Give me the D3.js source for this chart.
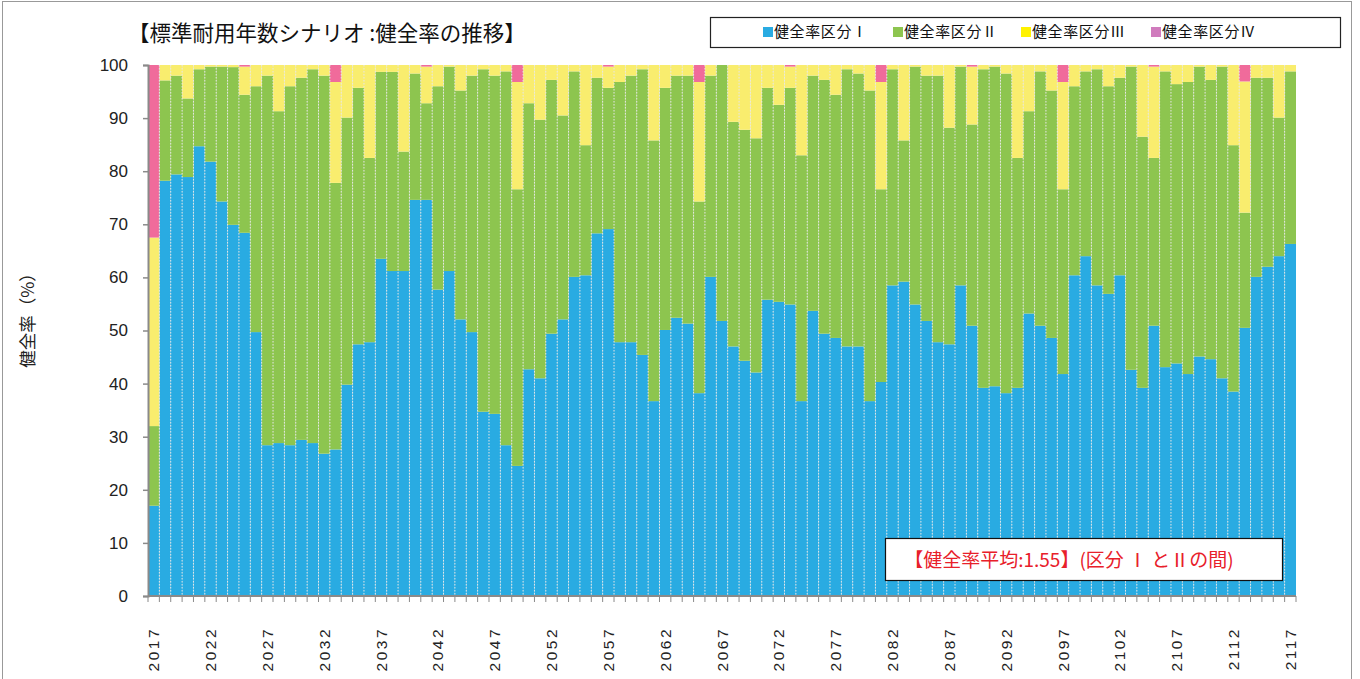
<!DOCTYPE html>
<html><head><meta charset="utf-8">
<script src="https://cdn.jsdelivr.net/npm/d3@7/dist/d3.min.js"></script>
<style>
html,body{margin:0;padding:0;background:#fff;}
svg{display:block;}
</style>
</head><body>
<svg id="chart" width="1360" height="679"></svg>
<script>
const years = d3.range(2017, 2118);
const seriesNames = ["健全率区分Ⅰ","健全率区分Ⅱ","健全率区分Ⅲ","健全率区分Ⅳ"];
const classI = [17.0,78.2,79.4,78.9,84.7,81.8,74.3,69.9,68.4,49.7,28.4,28.8,28.4,29.4,28.8,26.8,27.6,39.8,47.4,47.8,63.5,61.2,61.2,74.6,74.6,57.7,61.2,52.1,49.7,34.7,34.3,28.4,24.5,42.7,41.0,49.4,52.1,60.1,60.4,68.3,69.1,47.8,47.8,45.4,36.7,50.1,52.4,51.3,38.2,60.1,51.8,47.0,44.3,42.1,55.8,55.4,54.9,36.7,53.7,49.4,48.6,47.0,47.0,36.7,40.3,58.5,59.2,54.9,51.8,47.8,47.4,58.5,50.9,39.2,39.5,38.2,39.2,53.2,50.9,48.6,41.8,60.4,64.0,58.5,56.9,60.4,42.6,39.2,50.9,43.1,43.8,41.8,45.1,44.6,41.0,38.5,50.5,60.1,62.0,64.0,66.3];
const classII = [15.0,18.9,18.6,14.8,14.5,17.9,25.4,29.7,26.0,46.3,69.6,62.5,67.6,68.2,70.4,71.2,50.2,50.3,48.3,34.7,35.2,37.5,22.5,23.8,18.2,38.3,38.5,43.1,48.3,64.5,63.7,70.4,52.1,50.1,48.7,47.8,38.4,38.7,24.5,29.3,26.6,49.0,50.2,53.8,49.1,45.6,45.6,46.7,36.1,37.9,48.2,42.3,43.5,44.1,39.9,37.1,40.8,46.3,44.3,47.8,45.8,52.2,51.4,58.5,36.3,40.7,26.6,44.8,46.2,50.2,40.8,41.2,37.9,60.0,60.2,60.2,43.3,38.1,47.9,46.6,34.8,35.6,34.8,40.7,39.1,37.2,57.1,47.3,31.6,55.7,52.6,55.0,54.6,52.6,58.7,46.4,21.7,37.5,35.6,26.1,32.5];
const classIII = [35.5,2.9,2.0,6.3,0.8,0.3,0.3,0.4,5.3,4.0,2.0,8.7,4.0,2.4,0.8,2.0,19.0,9.9,4.3,17.5,1.3,1.3,16.3,1.6,6.9,4.0,0.3,4.8,2.0,0.8,2.0,1.2,20.2,7.2,10.3,2.8,9.5,1.2,15.1,2.4,4.0,3.2,2.0,0.8,14.2,4.3,2.0,2.0,22.5,2.0,0.0,10.7,12.2,13.8,4.3,7.5,4.0,17.0,2.0,2.8,5.6,0.8,1.6,4.8,20.2,0.8,14.2,0.3,2.0,2.0,11.8,0.3,10.9,0.8,0.3,1.6,17.5,8.7,1.2,4.8,20.2,4.0,1.2,0.8,4.0,2.4,0.3,13.5,17.2,1.2,3.6,3.2,0.3,2.8,0.3,15.1,24.7,2.4,2.4,9.9,1.2];
const classIV = [32.5,0,0,0,0,0,0,0,0.3,0,0,0,0,0,0,0,3.2,0,0,0,0,0,0,0,0.3,0,0,0,0,0,0,0,3.2,0,0,0,0,0,0,0,0.3,0,0,0,0,0,0,0,3.2,0,0,0,0,0,0,0,0.3,0,0,0,0,0,0,0,3.2,0,0,0,0,0,0,0,0.3,0,0,0,0,0,0,0,3.2,0,0,0,0,0,0,0,0.3,0,0,0,0,0,0,0,3.1,0,0,0,0];
const yTicks = [0,10,20,30,40,50,60,70,80,90,100];
const xLabels = d3.range(2017, 2118, 5);
const barColors = ["#29abe2","#8dc54f","#f9ed6e","#f06b9b"];
const legendColors = ["#29abe2","#8dc54f","#fff200","#d07bbd"];

const keys = ["I","II","III","IV"];
const table = years.map((yr,i)=>({year:yr, I:classI[i], II:classII[i], III:classIII[i], IV:classIV[i]}));

const svg = d3.select("#chart");
const W = 1360, H = 679;
const m = {left:148, right:1296, top:65, bottom:596};

// outer frame
svg.append("rect").attr("x",2.5).attr("y",1.5).attr("width",1349).attr("height",H+10)
  .attr("fill","#fff").attr("stroke","#999").attr("stroke-width",1);

const x = d3.scaleBand().domain(years).range([m.left, m.right]).padding(0);
const y = d3.scaleLinear().domain([0,100]).range([m.bottom, m.top]);

const stack = d3.stack().keys(keys);
const layers = stack(table);

const g = svg.append("g");
layers.forEach((layer, li)=>{
  g.append("g").selectAll("rect").data(layer).join("rect")
    .attr("x", d=>x(d.data.year))
    .attr("width", x.bandwidth())
    .attr("y", d=>y(d[1]))
    .attr("height", d=>Math.max(0, y(d[0]) - y(d[1])))
    .attr("fill", barColors[li]);
});
// dotted separators between bars
g.append("g").selectAll("line").data(years.slice(1)).join("line")
  .attr("x1", d=>x(d)).attr("x2", d=>x(d))
  .attr("y1", y(100)).attr("y2", y(0))
  .attr("stroke","#e6e6e6").attr("stroke-width",1).attr("stroke-dasharray","1.5,1.5");

// Y axis
const yAxis = d3.axisLeft(y).tickValues(yTicks).tickSize(5).tickPadding(15);
const ya = svg.append("g").attr("transform",`translate(${m.left},0)`).call(yAxis);
ya.select(".domain").attr("stroke","#8a8a8a").attr("stroke-width",2);
ya.selectAll(".tick line").attr("stroke","#8a8a8a").attr("stroke-width",1.5);
ya.selectAll(".tick text").attr("font-family","'Liberation Sans', Arial, sans-serif")
  .attr("font-size",17).attr("fill","#222");

// X axis line and ticks
svg.append("line").attr("x1",m.left).attr("x2",m.right).attr("y1",y(0)).attr("y2",y(0))
  .attr("stroke","#8a8a8a").attr("stroke-width",2);
const bounds = years.map(d=>x(d)).concat([x(years[years.length-1]) + x.bandwidth()]);
svg.append("g").selectAll("line").data(bounds).join("line")
  .attr("x1",d=>d).attr("x2",d=>d).attr("y1",y(0)).attr("y2",y(0)+6)
  .attr("stroke","#8a8a8a").attr("stroke-width",1);
svg.append("g").selectAll("text").data(xLabels).join("text")
  .attr("transform", d=>`translate(${x(d)+x.bandwidth()/2},${y(0)+31}) rotate(-90)`)
  .attr("text-anchor","end").attr("dy","0.36em")
  .attr("font-family","'Liberation Sans', Arial, sans-serif")
  .attr("font-size",15.5).attr("letter-spacing","2.5px").attr("fill","#222")
  .text(d=>d);

// Y title
svg.append("text").attr("transform","translate(28,316) rotate(-90)")
  .attr("text-anchor","middle").attr("dy","0.35em")
  .attr("font-family","'Noto Sans CJK JP', sans-serif").attr("font-size",17.5).attr("fill","#222")
  .text("健全率（%）");

// Title
svg.append("text").attr("x",128).attr("y",41)
  .attr("font-family","'Noto Sans CJK JP', sans-serif").attr("font-size",21.5).attr("fill","#111")
  .text("【標準耐用年数シナリオ :健全率の推移】");

// Legend
svg.append("rect").attr("x",710.5).attr("y",17.5).attr("width",630).attr("height",30)
  .attr("fill","#fff").attr("stroke","#222").attr("stroke-width",1.2);
const legendX = [763, 893, 1021, 1151];
const lg = svg.append("g").selectAll("g").data(seriesNames).join("g")
  .attr("transform",(d,i)=>`translate(${legendX[i]},32)`);
lg.append("rect").attr("x",0).attr("y",-5).attr("width",10).attr("height",10)
  .attr("fill",(d,i)=>legendColors[i]);
lg.append("text").attr("x",11).attr("dy","0.35em")
  .attr("font-family","'Noto Sans CJK JP', sans-serif").attr("font-size",15).attr("fill","#111")
  .attr("letter-spacing","0.6px")
  .text(d=>d);

// Annotation
svg.append("rect").attr("x",885.5).attr("y",538.5).attr("width",397).attr("height",42)
  .attr("fill","#fff").attr("stroke","#111").attr("stroke-width",1.2);
svg.append("text").attr("x",1069).attr("y",560).attr("text-anchor","middle").attr("dy","0.35em")
  .attr("font-family","'Noto Sans CJK JP', sans-serif").attr("font-size",19).attr("fill","#e8202a")
  .text("【健全率平均:1.55】(区分 Ⅰ とⅡの間)");
</script>
</body></html>
